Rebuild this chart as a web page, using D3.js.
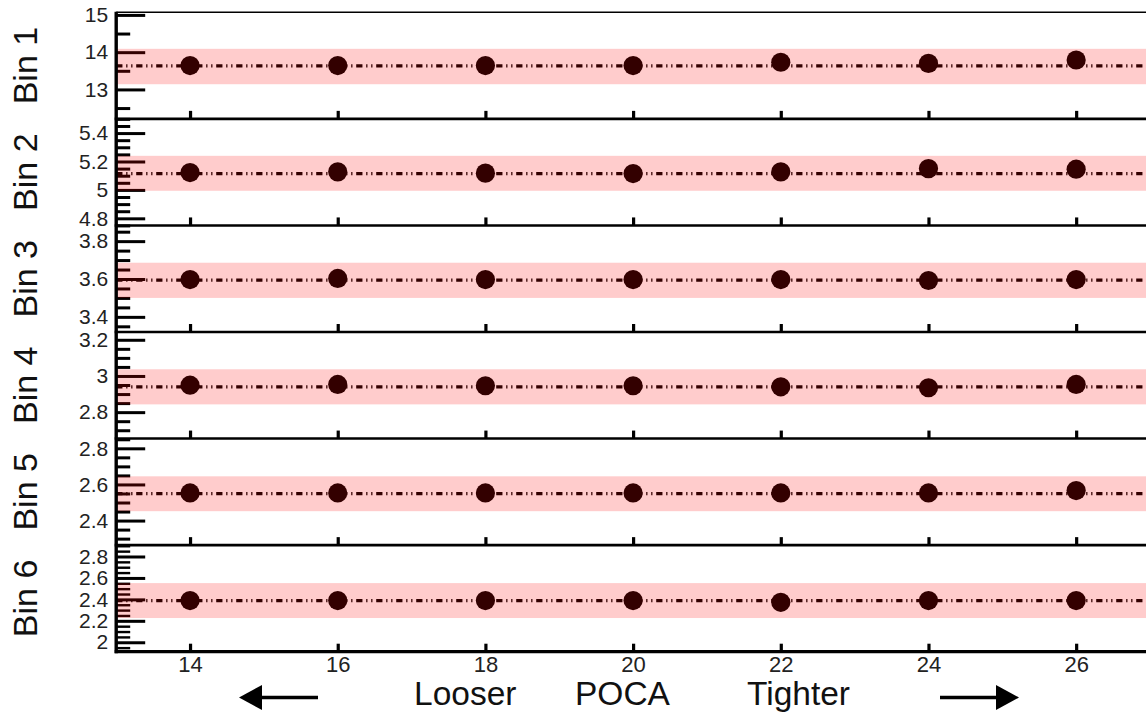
<!DOCTYPE html>
<html><head><meta charset="utf-8">
<script src="https://cdn.jsdelivr.net/npm/d3@7"></script>
<style>body{margin:0;background:#fff;overflow:hidden} text{font-family:"Liberation Sans",Arial,Helvetica,sans-serif}</style>
</head><body><svg id="c" width="1146" height="715"></svg>
<script>
// ---- data ----
const cuts = [14, 16, 18, 20, 22, 24, 26];
const xTickLabels = ["14", "16", "18", "20", "22", "24", "26"];
const binNames = ["Bin 1", "Bin 2", "Bin 3", "Bin 4", "Bin 5", "Bin 6"];
const bin1 = [13.64, 13.64, 13.64, 13.64, 13.73, 13.70, 13.79];
const bin2 = [5.122, 5.127, 5.118, 5.115, 5.127, 5.150, 5.146];
const bin3 = [3.597, 3.603, 3.597, 3.597, 3.597, 3.592, 3.597];
const bin4 = [2.949, 2.953, 2.946, 2.946, 2.940, 2.935, 2.953];
const bin5 = [2.553, 2.553, 2.553, 2.553, 2.553, 2.553, 2.566];
const bin6 = [2.389, 2.389, 2.389, 2.389, 2.373, 2.389, 2.389];
const nominal = [13.63, 5.115, 3.594, 2.940, 2.549, 2.389];
const bandLow = [13.14, 4.994, 3.500, 2.843, 2.452, 2.226];
const bandHigh = [14.09, 5.240, 3.686, 3.037, 2.645, 2.552];
const yDomains = [[12.21, 15.07], [4.75, 5.5], [3.32, 3.883], [2.654, 3.243], [2.264, 2.854], [1.912, 2.906]];
const yMajorTicks = [[13, 14, 15], [4.8, 5, 5.2, 5.4], [3.4, 3.6, 3.8], [2.8, 3, 3.2], [2.4, 2.6, 2.8], [2, 2.2, 2.4, 2.6, 2.8]];
const yTickLabels = [["13", "14", "15"], ["4.8", "5", "5.2", "5.4"], ["3.4", "3.6", "3.8"], ["2.8", "3", "3.2"], ["2.4", "2.6", "2.8"], ["2", "2.2", "2.4", "2.6", "2.8"]];
const yMinorStep = [0.5, 0.05, 0.05, 0.05, 0.05, 0.05];
const axisWords = ["Looser", "POCA", "Tighter"];
const series = [bin1, bin2, bin3, bin4, bin5, bin6];

// ---- layout ----
const svg = d3.select("#c");
const x = d3.scaleLinear().domain([13, 27]).range([116.2, 1150]);
const panelY = d3.scaleLinear().domain([0, 6]).range([12.3, 651.7]);
const black = "#000";
const ff = '"Liberation Sans",Arial,sans-serif';

series.forEach((vals, i) => {
  const top = panelY(i), bot = panelY(i + 1);
  const y = d3.scaleLinear().domain(yDomains[i]).range([bot, top]);
  const g = svg.append("g");

  // minor ticks
  const st = yMinorStep[i];
  const minor = d3.range(Math.ceil(yDomains[i][0] / st - 1e-9), Math.floor(yDomains[i][1] / st + 1e-9) + 1)
    .map(k => +(k * st).toFixed(4))
    .filter(v => !yMajorTicks[i].some(m => Math.abs(m - v) < 1e-6));
  const minAx = g.append("g").attr("transform", `translate(${x(13)},0)`)
    .call(d3.axisLeft(y).tickValues(minor).tickSize(-14).tickFormat(""));
  minAx.select(".domain").remove();
  minAx.selectAll("line").attr("stroke", black).attr("stroke-width", i === 5 ? 2.4 : 3);

  // major ticks
  const majAx = g.append("g").attr("transform", `translate(${x(13)},0)`)
    .call(d3.axisLeft(y).tickValues(yMajorTicks[i]).tickSize(-29).tickPadding(8)
      .tickFormat((d, j) => yTickLabels[i][j]));
  majAx.select(".domain").remove();
  majAx.selectAll("line").attr("stroke", black).attr("stroke-width", 3);
  majAx.selectAll("text").attr("font-size", 21).attr("fill", "#222").style("font-family", ff);

  // x ticks at panel bottom
  const xa = g.append("g").attr("transform", `translate(0,${bot})`)
    .call(d3.axisBottom(x).tickValues(cuts).tickSize(-8).tickPadding(5)
      .tickFormat((d, j) => i === 5 ? xTickLabels[j] : ""));
  xa.select(".domain").remove();
  xa.selectAll("line").attr("stroke", black).attr("stroke-width", 3.2);
  xa.selectAll("text").attr("font-size", 22).attr("fill", "#222").style("font-family", ff);

  // nominal dash-dot line
  g.append("line")
    .attr("x1", x(13)).attr("x2", x(27))
    .attr("y1", y(nominal[i])).attr("y2", y(nominal[i]))
    .attr("stroke", black).attr("stroke-width", 3.2)
    .attr("stroke-dasharray", "6.25,3.75,1.25,3.75,1.25,3.75");

  // points
  g.selectAll("circle.pt").data(vals).join("circle").attr("class", "pt")
    .attr("cx", (d, j) => x(cuts[j])).attr("cy", d => y(d)).attr("r", 9.6)
    .attr("fill", black);

  // uncertainty band (drawn on top, translucent)
  g.append("rect")
    .attr("x", x(13)).attr("width", x(27) - x(13))
    .attr("y", y(bandHigh[i])).attr("height", y(bandLow[i]) - y(bandHigh[i]))
    .attr("fill", "rgba(255,0,0,0.2)");

  // panel bottom line
  g.append("line").attr("x1", x(13) - 1.5).attr("x2", x(27))
    .attr("y1", bot).attr("y2", bot)
    .attr("stroke", black).attr("stroke-width", i === 5 ? 3.2 : 2.6);

  // bin label
  svg.append("text")
    .attr("transform", `translate(37,${(top + bot) / 2}) rotate(-90)`)
    .attr("text-anchor", "middle")
    .attr("font-size", 34).attr("fill", "#111")
    .text(binNames[i]);
});

// top border and y axis line
svg.append("line").attr("x1", x(13)).attr("x2", x(27))
  .attr("y1", panelY(0)).attr("y2", panelY(0)).attr("stroke", black).attr("stroke-width", 1.6);
svg.append("line").attr("x1", x(13)).attr("x2", x(13))
  .attr("y1", panelY(0) - 0.5).attr("y2", panelY(6) + 1.6).attr("stroke", black).attr("stroke-width", 3.4);

// bottom axis words
const wordX = [414, 575, 747];
svg.selectAll("text.word").data(axisWords).join("text").attr("class", "word")
  .attr("x", (d, i) => wordX[i]).attr("y", 705)
  .attr("font-size", 33.5).attr("fill", "#111").text(d => d);

// arrows
svg.append("line").attr("x1", 258).attr("x2", 318).attr("y1", 697.5).attr("y2", 697.5)
  .attr("stroke", black).attr("stroke-width", 3.5);
svg.append("path").attr("d", "M239,697.5 L262,685 L262,710 Z").attr("fill", black);
svg.append("line").attr("x1", 940).attr("x2", 1000).attr("y1", 697.5).attr("y2", 697.5)
  .attr("stroke", black).attr("stroke-width", 3.5);
svg.append("path").attr("d", "M1019,697.5 L996,685 L996,710 Z").attr("fill", black);
</script></body></html>
